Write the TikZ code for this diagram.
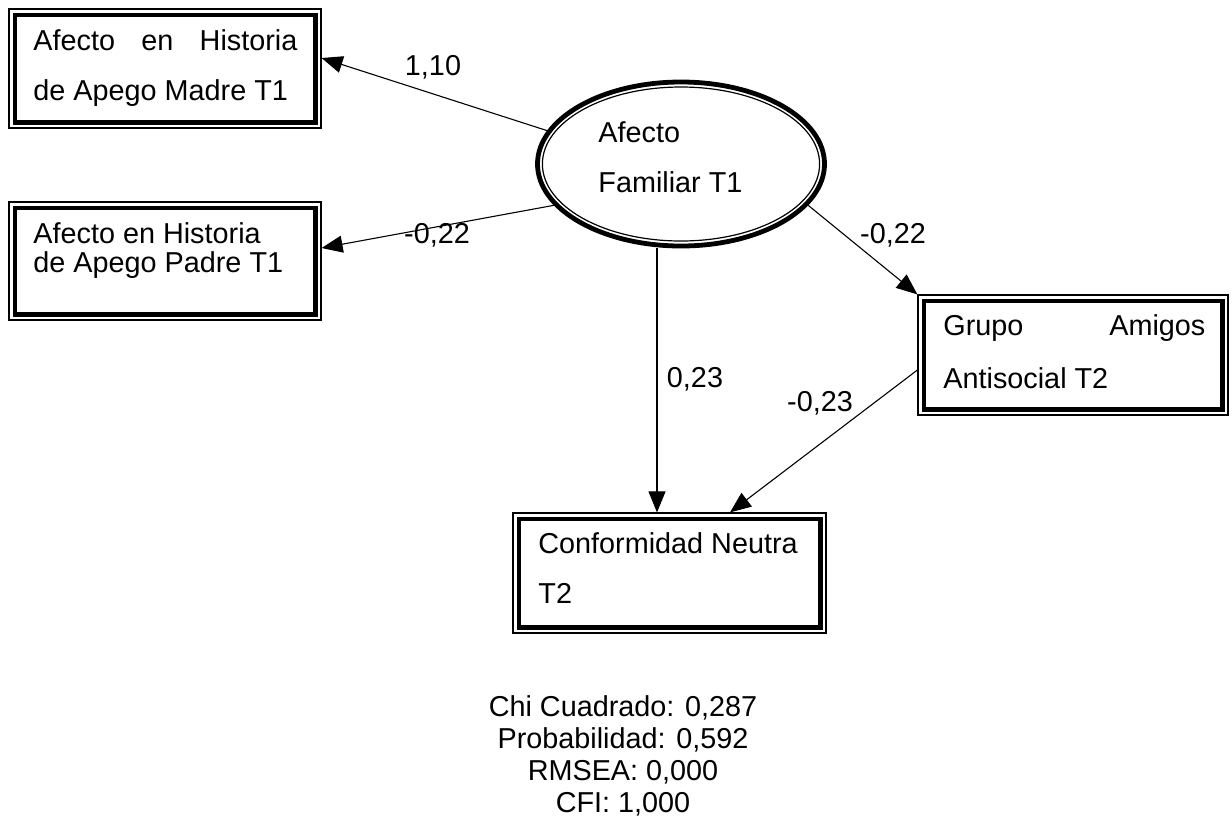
\documentclass[tikz,border=0pt]{standalone}
\usepackage{fontspec}
\setmainfont{Liberation Sans}
\usetikzlibrary{positioning,arrows.meta,shapes.geometric}
\tikzset{dbox/.style n args={2}{
    draw, line width=0.6pt, inner sep=0pt,
    minimum width=#1, minimum height=#2,
    path picture={
        \draw[line width=2.3pt]
            ([xshift=2.9pt,yshift=-2.9pt]path picture bounding box.north west) rectangle
            ([xshift=-2.9pt,yshift=2.9pt]path picture bounding box.south east);
        }
    },
    latent/.style={
    draw, ellipse, line width=2.4pt, inner sep=0pt,
    minimum width=143.5pt, minimum height=82pt,
    path picture={
        \draw[line width=0.6pt] (path picture bounding box.center) ellipse [x radius=69.3pt, y radius=38.5pt];
        }
    },
    txt/.style={font=\fontsize{14.4}{17}\selectfont, inner sep=0pt},
    fit/.style={font=\fontsize{14.4}{16}\selectfont, inner sep=0pt, align=center}
}

\begin{document}
\begin{tikzpicture}[x=0.5pt,y=-0.5pt,>={Triangle[length=10.5pt,width=8.5pt]}]
		\useasboundingbox (0,0) rectangle (1232,821);

		\node[dbox={156pt}{59.5pt}] (madre) at (165,68.5) {};
		\node[dbox={156pt}{59pt}] (padre) at (165,261) {};
		\node[dbox={155pt}{60pt}] (grupo) at (1073,355) {};
		\node[dbox={156.5pt}{60pt}] (conf) at (669.5,573) {};
		\node[latent] (afecto) at (681,164) {};

		% variable names
		\node[txt,anchor=base west] (madreA) at (33,50) {\hbox to 132pt{Afecto\hfill en\hfill Historia}};
		\node[txt,anchor=base west] (madreB) at (33,100) {de Apego Madre T1};
		\node[txt,anchor=base west] (padreA) at (33,243) {Afecto en Historia};
		\node[txt,anchor=base west] (padreB) at (33,272) {de Apego Padre T1};
		\node[txt,anchor=base west] (afectoA) at (598,142) {Afecto};
		\node[txt,anchor=base west] (afectoB) at (598,192) {Familiar T1};
		\node[txt,anchor=base west] (grupoA) at (943,335) {\hbox to 131pt{Grupo\hfill Amigos}};
		\node[txt,anchor=base west] (grupoB) at (943,388) {Antisocial T2};
		\node[txt,anchor=base west] (confA) at (538,553) {Conformidad Neutra};
		\node[txt,anchor=base west] (confB) at (538,603) {T2};

		\coordinate (confL) at ([xshift=-6.25pt]conf.north);
		\coordinate (confR) at ([xshift=30.25pt]conf.north);

		\draw [->,line width=0.55pt] (afecto.166) -- ([yshift=5.25pt]madre.east);
		\draw [->,line width=0.55pt] (afecto.198) -- ([yshift=6.5pt]padre.east);
		\draw [->,line width=0.55pt] (afecto.342) -- (grupo.north west);
		\draw [->,line width=0.55pt] (confL |- afecto.south) -- (confL);
		\draw [->,line width=0.55pt] ([yshift=-7.5pt]grupo.west) -- (confR);

		% path coefficients
		\node[txt] (w1) at (433,67) {1,10};
		\node[txt] (w2) at (437,235) {-0,22};
		\node[txt] (w3) at (893,235) {-0,22};
		\node[txt] (w4) at (695,379) {0,23};
		\node[txt] (w5) at (820,403) {-0,23};

		% fit indices
		\node[fit,anchor=north] (stats) at (623,695) {Chi Cuadrado: 0,287\\Probabilidad: 0,592\\RMSEA: 0,000\\CFI: 1,000};
	\end{tikzpicture}
\end{document}
